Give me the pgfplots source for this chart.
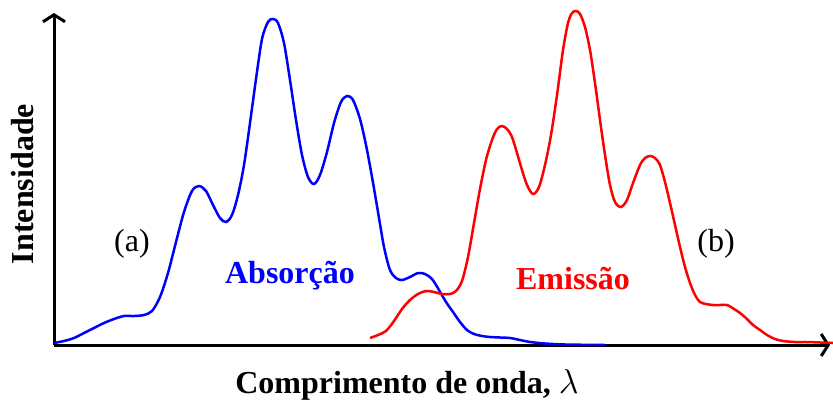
\documentclass[border=0pt]{standalone}
\usepackage{pgfplots}
\pgfplotsset{compat=1.18}
\usepackage{fontspec}
\setmainfont{Liberation Serif}
\usetikzlibrary{arrows.meta}
\definecolor{absblue}{RGB}{0,0,255}
\definecolor{emired}{RGB}{255,0,0}
\begin{document}
\begin{tikzpicture}
\useasboundingbox (0pt,-28.5pt) rectangle (416.5pt,172.5pt);
\begin{axis}[
  at={(27pt,0pt)}, anchor=south west,
  x=0.5pt, y=0.5pt,
  xmin=54, xmax=830, ymin=0, ymax=332,
  axis lines=left,
  axis line style={line width=1.5pt, -{Straight Barb[length=3.5pt,width=11pt,line width=1.5pt]}},
  xtick=\empty, ytick=\empty,
  clip=false,
]
\addplot[absblue, line width=1.25pt, smooth, tension=0.5] coordinates {
(54,2) (64,4) (74,7) (84,12) (94,17) (104,22) (114,26) (124,29) (134,29) (144,30)
(152,34) (160,48) (168,72) (176,103) (184,133) (192,154) (199,159) (206,154)
(213,140) (220,127) (226,123) (232,130) (238,150) (244,180) (250,222) (256,266)
(262,306) (268,323) (273,326) (278,322) (284,302) (290,265) (296,225) (302,190)
(308,168) (314,161) (320,170) (327,193) (334,222) (341,243) (347,249) (353,245)
(360,226) (366,200) (372,168) (378,133) (384,98) (390,75) (396,67) (402,65)
(410,68) (418,72) (425,71) (432,66) (439,55) (446,43) (453,33) (460,23) (467,15)
(474,11) (482,9) (490,8) (500,7.5) (510,7) (520,5) (530,3) (545,1.5) (565,0.5) (605,0)
};
\addplot[emired, line width=1.25pt, smooth, tension=0.5] coordinates {
(370,7) (378,10) (386,14) (394,24) (402,36) (410,45) (418,51) (426,54) (434,53)
(442,51) (450,51) (456,54) (462,64) (468,88) (474,122) (480,156) (486,185)
(492,205) (497,216) (502,219) (507,216) (512,208) (517,192) (522,175) (527,160)
(533,151) (539,158) (545,180) (551,210) (557,250) (563,295) (568,322) (572,332)
(576,334) (580,331) (585,318) (590,295) (595,262) (600,225) (605,190) (610,160)
(615,143) (621,138) (627,145) (633,162) (640,180) (645,187) (650,189) (655,187)
(660,180) (665,163) (670,142) (675,120) (680,98) (685,78) (690,62) (695,50)
(700,43) (706,41) (713,40) (720,40) (727,40) (734,36) (740,32) (747,26) (753,20)
(760,15) (767,10) (775,6) (783,4) (795,3) (807,3) (820,2.5) (833,2)
};
\node[font=\fontsize{16}{19}\selectfont] at (axis cs:132,101) {(a)};
\node[font=\fontsize{16}{19}\selectfont] at (axis cs:716,101) {(b)};
\node[font=\fontsize{16}{19}\selectfont\bfseries, text=absblue] at (axis cs:290,69) {Absorção};
\node[font=\fontsize{16}{19}\selectfont\bfseries, text=emired] at (axis cs:573,66) {Emissão};
\node[font=\fontsize{16}{19}\selectfont\bfseries, rotate=90] at (axis cs:23,161) {Intensidade};
\node[font=\fontsize{16}{19}\selectfont\bfseries] at (axis cs:407,-40) {Comprimento de onda, $\lambda$};
\end{axis}
\end{tikzpicture}
\end{document}
